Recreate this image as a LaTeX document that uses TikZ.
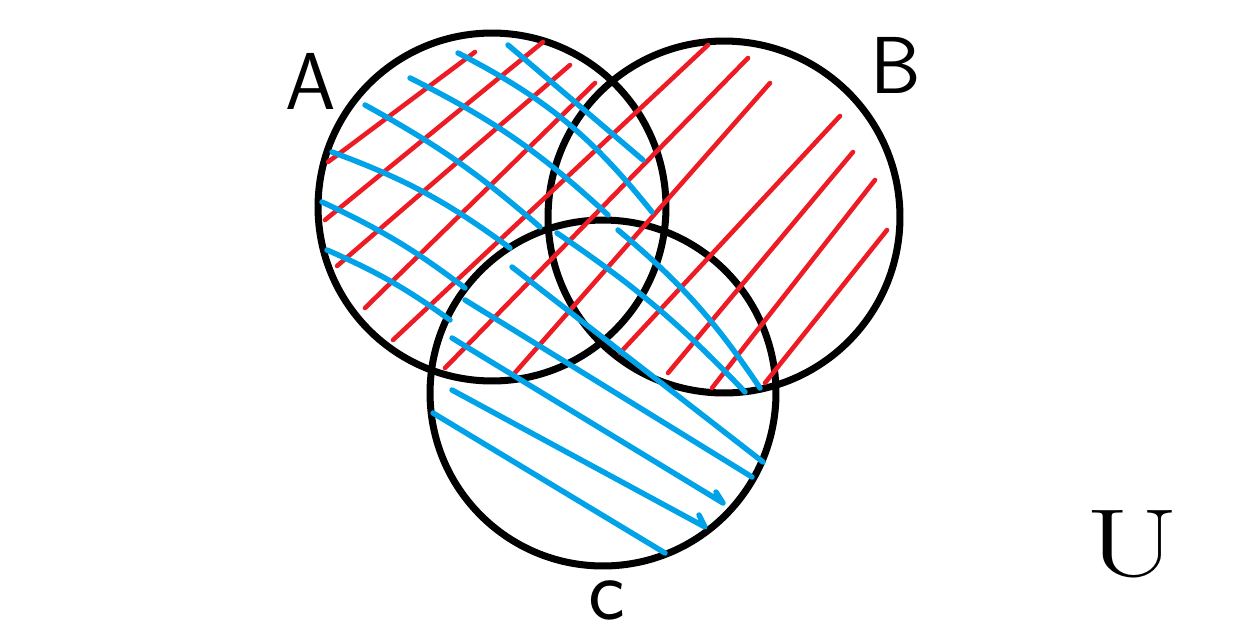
\documentclass[tikz,border=0pt]{standalone}
\usetikzlibrary{positioning}
\definecolor{penred}{HTML}{ED1C24}
\definecolor{penblue}{HTML}{00A2E8}

\begin{document}
\begin{tikzpicture}[x=0.02cm, y=-0.02cm,
  venn/.style={circle, draw, line width=4pt, inner sep=0pt},
  redpen/.style={penred, line width=2.6pt, line cap=round},
  bluepen/.style={penblue, line width=3.1pt, line cap=round, line join=round},
  lbl/.style={font=\sffamily\fontsize{46}{50}\selectfont, inner sep=0pt}]
\useasboundingbox (0,0) rectangle (1256,636);
\node[venn, minimum size=6.96cm] (setA) at (492,207) {};
\node[venn, minimum size=7.04cm] (setB) at (724,217) {};
\node[venn, minimum size=6.92cm] (setC) at (603,393) {};
\node[lbl] (labA) at (311,81) {A};
\node[lbl] (labB) at (896,65) {B};
\node[lbl, font=\sffamily\fontsize{50}{52}\selectfont] (labC) at (607,600) {c};
\node[font=\fontsize{55}{58}\selectfont, inner sep=0pt] (univ) at (1132,544) {\scalebox{1.4}[1]{U}};
% red strokes: A and B
\draw[redpen] (328,162) -- (475,52); \draw[redpen] (325,220) -- (543,42); \draw[redpen] (337,266) -- (570,65);
\draw[redpen] (365,308) -- (595,83); \draw[redpen] (393,340) -- (708,45); \draw[redpen] (445,368) -- (748,58);
\draw[redpen] (513,375) -- (770,83); \draw[redpen] (620,353) -- (840,116); \draw[redpen] (668,373) -- (853,152);
\draw[redpen] (712,388) -- (875,180); \draw[redpen] (765,383) -- (887,230);
% blue strokes: A and C
\draw[bluepen] (508,45) -- (643,160); \draw[bluepen] (458,53) to[bend left=12] (652,212); \draw[bluepen] (410,78) to[bend left=8] (608,215);
\draw[bluepen] (365,105) to[bend left=6] (540,227); \draw[bluepen] (332,152) to[bend left=8] (510,248); \draw[bluepen] (322,202) to[bend left=6] (465,288);
\draw[bluepen] (327,250) to[bend left=6] (450,320);
\draw[bluepen] (557,233) to[bend left=6] (745,392); \draw[bluepen] (618,230) to[bend left=8] (760,388);
\draw[bluepen] (512,267) -- (763,462); \draw[bluepen] (465,300) -- (752,477);
\draw[bluepen] (452,338) -- (723,503) -- (716,492); \draw[bluepen] (452,390) -- (705,527) -- (699,515);
\draw[bluepen] (433,413) -- (665,553);
\end{tikzpicture}
\end{document}
